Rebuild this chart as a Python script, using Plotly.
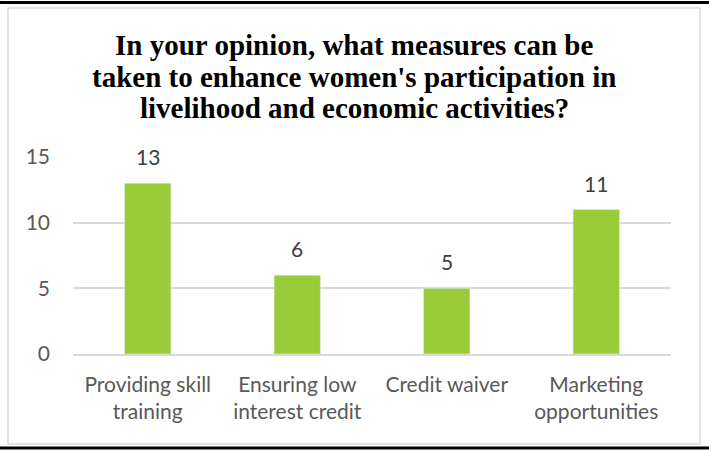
import plotly.graph_objects as go

categories = ["Providing skill<br>training", "Ensuring low<br>interest credit", "Credit waiver", "Marketing<br>opportunities"]
values = [13, 6, 5, 11]
y_ticks = [0, 5, 10, 15]
title_lines = [
    "In your opinion, what measures can be",
    "taken to enhance women's participation in",
    "livelihood and economic activities?",
]

W, H = 709, 450
L, R, T, B = 73, 38, 157, 96
pw, ph = W - L - R, H - T - B

def px(x):
    return (x - L) / pw

def py(y):
    return (H - B - y) / ph

fig = go.Figure(go.Bar(
    x=categories, y=values,
    marker_color="#9ACB38",
    width=0.31,
    cliponaxis=False,
    hoverinfo="skip",
))

annotations = []
for c, v in zip(categories, values):
    annotations.append(dict(x=c, y=v, xref="x", yref="y", text=str(v), showarrow=False,
                            yanchor="bottom", yshift=12,
                            font=dict(family="Lato", size=21, color="#404040")))
for i, (line, yc) in enumerate(zip(title_lines, [45, 77, 108])):
    annotations.append(dict(x=px(354), y=py(yc), xref="paper", yref="paper", text="<b>" + line + "</b>",
                            showarrow=False, xanchor="center", yanchor="middle",
                            font=dict(family="Liberation Serif", size=29, color="black")))

fig.update_layout(
    width=W, height=H,
    margin=dict(l=L, r=R, t=T, b=B),
    paper_bgcolor="white", plot_bgcolor="white",
    font=dict(family="Lato", size=21, color="#595959"),
    showlegend=False,
    annotations=annotations,
)
fig.update_yaxes(range=[0, 15], tickvals=y_ticks, showgrid=True, gridcolor="#D9D9D9",
                 gridwidth=1.5, zeroline=False, showline=False, ticks="",
                 tickfont=dict(size=21, color="#595959"), ticklabelstandoff=22)
fig.update_xaxes(showline=True, linecolor="#D9D9D9", linewidth=1.5, ticks="",
                 tickfont=dict(size=21, color="#595959"), ticklabelstandoff=11)

shapes = [
    dict(type="rect", xref="paper", yref="paper", x0=px(8), x1=px(700), y0=py(444), y1=py(8),
         line=dict(color="#D9D9D9", width=1.5), layer="below"),
    dict(type="line", xref="paper", yref="paper", x0=px(0), x1=px(709), y0=py(2.5), y1=py(2.5),
         line=dict(color="black", width=3)),
    dict(type="line", xref="paper", yref="paper", x0=px(0), x1=px(709), y0=py(448), y1=py(448),
         line=dict(color="black", width=3)),
]
fig.update_layout(shapes=shapes)
fig.write_html("out.html", config={"displayModeBar": False},
               post_script="document.body.style.margin='0';document.body.style.overflow='hidden';")
